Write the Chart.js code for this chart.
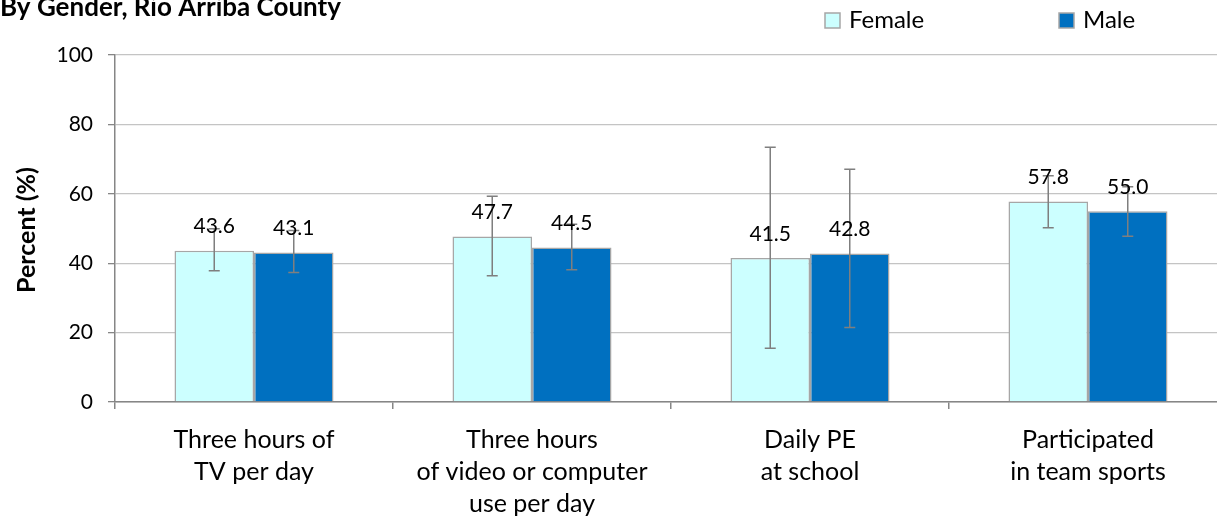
<!DOCTYPE html>
<html><head><meta charset="utf-8">
<script src="https://cdn.jsdelivr.net/npm/chart.js@4/dist/chart.umd.min.js"></script>
<style>
html,body{margin:0;padding:0;overflow:hidden;background:#fff;width:1217px;height:520px}
#wrap{position:relative;width:1232px;height:520px}
</style>
</head><body><div id="wrap"><canvas id="c" width="1232" height="520"></canvas></div>
<script>
const chartTitle = "By Gender, Rio Arriba County";
const yAxisTitle = "Percent (%)";
const categories = [["Three hours of","TV per day"],["Three hours","of video or computer","use per day"],["Daily PE","at school"],["Participated","in team sports"]];
const seriesNames = ["Female","Male"];
const femaleValues = [43.6,47.7,41.5,57.8];
const maleValues = [43.1,44.5,42.8,55.0];
const femaleLower = [37.8,36.4,15.5,50.2];
const femaleUpper = [49.9,59.3,73.4,65.2];
const maleLower = [37.3,38.1,21.5,47.8];
const maleUpper = [49.4,51.2,67.1,62.0];
const yTicks = [0,20,40,60,80,100];

const FONT = "Lato, 'Open Sans', sans-serif";
const femaleColor = "#CCFFFF", maleColor = "#0070C0", borderGrey = "#A6A6A6";
const errLow = [femaleLower, maleLower], errHigh = [femaleUpper, maleUpper];

const overlay = {
  id: "overlay",
  afterDatasetsDraw(chart) {
    const ctx = chart.ctx, y = chart.scales.y;
    ctx.save();
    chart.data.datasets.forEach((ds, di) => {
      const meta = chart.getDatasetMeta(di);
      meta.data.forEach((bar, i) => {
        const x = bar.x;
        const yt = y.getPixelForValue(errHigh[di][i]);
        const yb = y.getPixelForValue(errLow[di][i]);
        ctx.strokeStyle = "#7F7F7F"; ctx.lineWidth = 1.5;
        ctx.beginPath();
        ctx.moveTo(x, yt); ctx.lineTo(x, yb);
        ctx.moveTo(x - 5.5, yt); ctx.lineTo(x + 5.5, yt);
        ctx.moveTo(x - 5.5, yb); ctx.lineTo(x + 5.5, yb);
        ctx.stroke();
      });
    });
    chart.data.datasets.forEach((ds, di) => {
      const meta = chart.getDatasetMeta(di);
      meta.data.forEach((bar, i) => {
        ctx.fillStyle = "#000";
        ctx.font = "21px " + FONT;
        ctx.textAlign = "center"; ctx.textBaseline = "middle";
        ctx.fillText(ds.data[i].toFixed(1), bar.x, bar.y - 24);
      });
    });
    ctx.restore();
  },
  afterDraw(chart) {
    const ctx = chart.ctx;
    ctx.save();
    ctx.fillStyle = "#000";
    ctx.font = "bold 26px " + FONT;
    ctx.textAlign = "left"; ctx.textBaseline = "alphabetic";
    ctx.fillText(chartTitle, 0, 16);
    // legend
    const items = [{x:825, c:femaleColor, t:seriesNames[0]}, {x:1059, c:maleColor, t:seriesNames[1]}];
    items.forEach(it => {
      ctx.fillStyle = it.c; ctx.strokeStyle = borderGrey; ctx.lineWidth = 1.5;
      ctx.fillRect(it.x, 13, 15, 15); ctx.strokeRect(it.x, 13, 15, 15);
      ctx.fillStyle = "#000"; ctx.font = "24px " + FONT;
      ctx.textAlign = "left"; ctx.textBaseline = "middle";
      ctx.fillText(it.t, it.x + 24, 20);
    });
    // y axis title
    ctx.translate(27, 230); ctx.rotate(-Math.PI/2);
    ctx.font = "bold 25px " + FONT; ctx.textAlign = "center"; ctx.textBaseline = "middle";
    ctx.fillStyle = "#000";
    ctx.fillText(yAxisTitle, 0, 0);
    ctx.restore();
  }
};

new Chart(document.getElementById("c"), {
  type: "bar",
  data: {
    labels: categories,
    datasets: [
      {label: seriesNames[0], data: femaleValues, backgroundColor: femaleColor, borderColor: borderGrey, borderWidth: 1.5, categoryPercentage: 0.572, barPercentage: 1.0},
      {label: seriesNames[1], data: maleValues, backgroundColor: maleColor, borderColor: borderGrey, borderWidth: 1.5, categoryPercentage: 0.572, barPercentage: 1.0}
    ]
  },
  options: {
    responsive: false, animation: false, devicePixelRatio: 1,
    layout: {padding: {top: 55, right: 5, left: 0, bottom: 0}},
    plugins: {legend: {display: false}, tooltip: {enabled: false}, title: {display: false}},
    scales: {
      y: {
        min: 0, max: 100,
        afterBuildTicks: s => { s.ticks = yTicks.map(v => ({value: v})); },
        afterFit: s => { s.width = 115; },
        ticks: {color: "#000", font: {family: FONT, size: 21}, padding: 15},
        grid: {color: "#C4C4C4", lineWidth: 1.3, tickLength: 7, tickColor: "#868686"},
        border: {color: "#868686", width: 1.5}
      },
      x: {
        afterFit: s => { s.height = 118; },
        ticks: {color: "#000", font: {family: FONT, size: 25, lineHeight: "32px"}, padding: 15, maxRotation: 0, autoSkip: false},
        grid: {drawOnChartArea: false, offset: true, tickLength: 7, tickColor: "#868686", lineWidth: 1.5},
        border: {color: "#868686", width: 1.5}
      }
    }
  },
  plugins: [overlay]
});
</script>
</body></html>
